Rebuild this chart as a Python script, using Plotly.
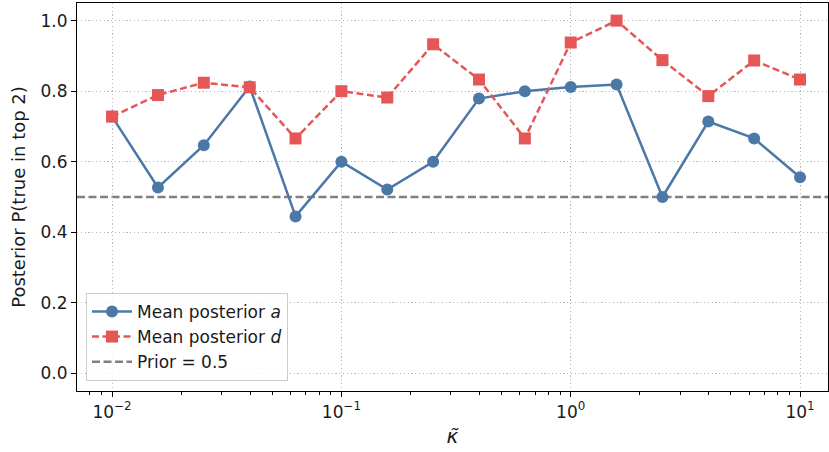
import numpy as np
import plotly.graph_objects as go

kappa = [0.01, 0.01585, 0.02512, 0.03981, 0.06310, 0.1, 0.1585, 0.2512,
         0.3981, 0.6310, 1.0, 1.585, 2.512, 3.981, 6.310, 10.0]
post_a = [0.728, 0.527, 0.647, 0.813, 0.445, 0.600, 0.521, 0.600,
          0.779, 0.800, 0.812, 0.819, 0.500, 0.714, 0.666, 0.556]
post_d = [0.728, 0.789, 0.824, 0.811, 0.666, 0.800, 0.782, 0.933,
          0.833, 0.666, 0.938, 1.000, 0.888, 0.786, 0.887, 0.833]
prior = 0.5
x_ticks = [0.01, 0.1, 1, 10]
x_ticktext = ["10<sup>−2</sup>", "10<sup>−1</sup>", "10<sup>0</sup>", "10<sup>1</sup>"]
y_ticks = [0.0, 0.2, 0.4, 0.6, 0.8, 1.0]

minor_vals = [m * 10.0 ** e for e in range(-3, 2) for m in range(2, 10)]

blue = "#4c78a8"
red = "#e45756"
font = "DejaVu Sans"
txt = "#1a1a1a"

fig = go.Figure()
fig.add_trace(go.Scatter(
    x=kappa, y=post_a, mode="lines+markers", name="Mean posterior <i>a</i>",
    line=dict(color=blue, width=2.5),
    marker=dict(symbol="circle", size=12, color=blue),
))
fig.add_trace(go.Scatter(
    x=kappa, y=post_d, mode="lines+markers", name="Mean posterior <i>d</i>",
    line=dict(color=red, width=2.5, dash="7px,3.5px"),
    marker=dict(symbol="square", size=12, color=red),
))
fig.add_shape(type="line", xref="paper", x0=0, x1=1, yref="y", y0=prior, y1=prior,
              line=dict(color="#808080", width=2.5, dash="8px,3.5px"),
              showlegend=True, name="Prior = 0.5", layer="below")

axis_common = dict(
    showline=True, linecolor="black", linewidth=1.2, mirror=True,
    ticks="outside", ticklen=5, tickwidth=1, tickcolor="black",
    showgrid=True, gridcolor="#b8b8b8", gridwidth=1, griddash="1.2px,2.6px",
    zeroline=False, tickfont=dict(family=font, size=17, color=txt),
    automargin=False,
)

fig.update_xaxes(
    type="log", range=[np.log10(0.01) - 0.153, np.log10(10) + 0.122],
    tickvals=x_ticks, ticktext=x_ticktext,
    title=dict(text="<i>κ̃</i>", font=dict(family=font, size=20, color=txt), standoff=8),
    minor=dict(tickvals=minor_vals, ticks="outside", ticklen=3, tickwidth=0.8,
               tickcolor="black", showgrid=False),
    **axis_common,
)
fig.update_yaxes(
    range=[-0.05, 1.05], tickvals=y_ticks, tickformat=".1f",
    title=dict(text="Posterior P(true in top 2)", font=dict(family=font, size=18, color=txt), standoff=10),
    **axis_common,
)

fig.update_layout(
    width=829, height=452,
    margin=dict(l=77, r=1, t=3, b=61),
    plot_bgcolor="white", paper_bgcolor="white",
    font=dict(family=font, size=17, color=txt),
    legend=dict(x=0.012, y=0.026, xanchor="left", yanchor="bottom",
                bgcolor="rgba(255,255,255,0.85)", bordercolor="#cccccc", borderwidth=1,
                font=dict(family=font, size=17, color=txt),
                itemwidth=40, tracegroupgap=0),
    showlegend=True,
)

fig.write_html("out.html", config={"displayModeBar": False},
               post_script="document.body.style.margin='0';document.body.style.overflow='hidden';")
